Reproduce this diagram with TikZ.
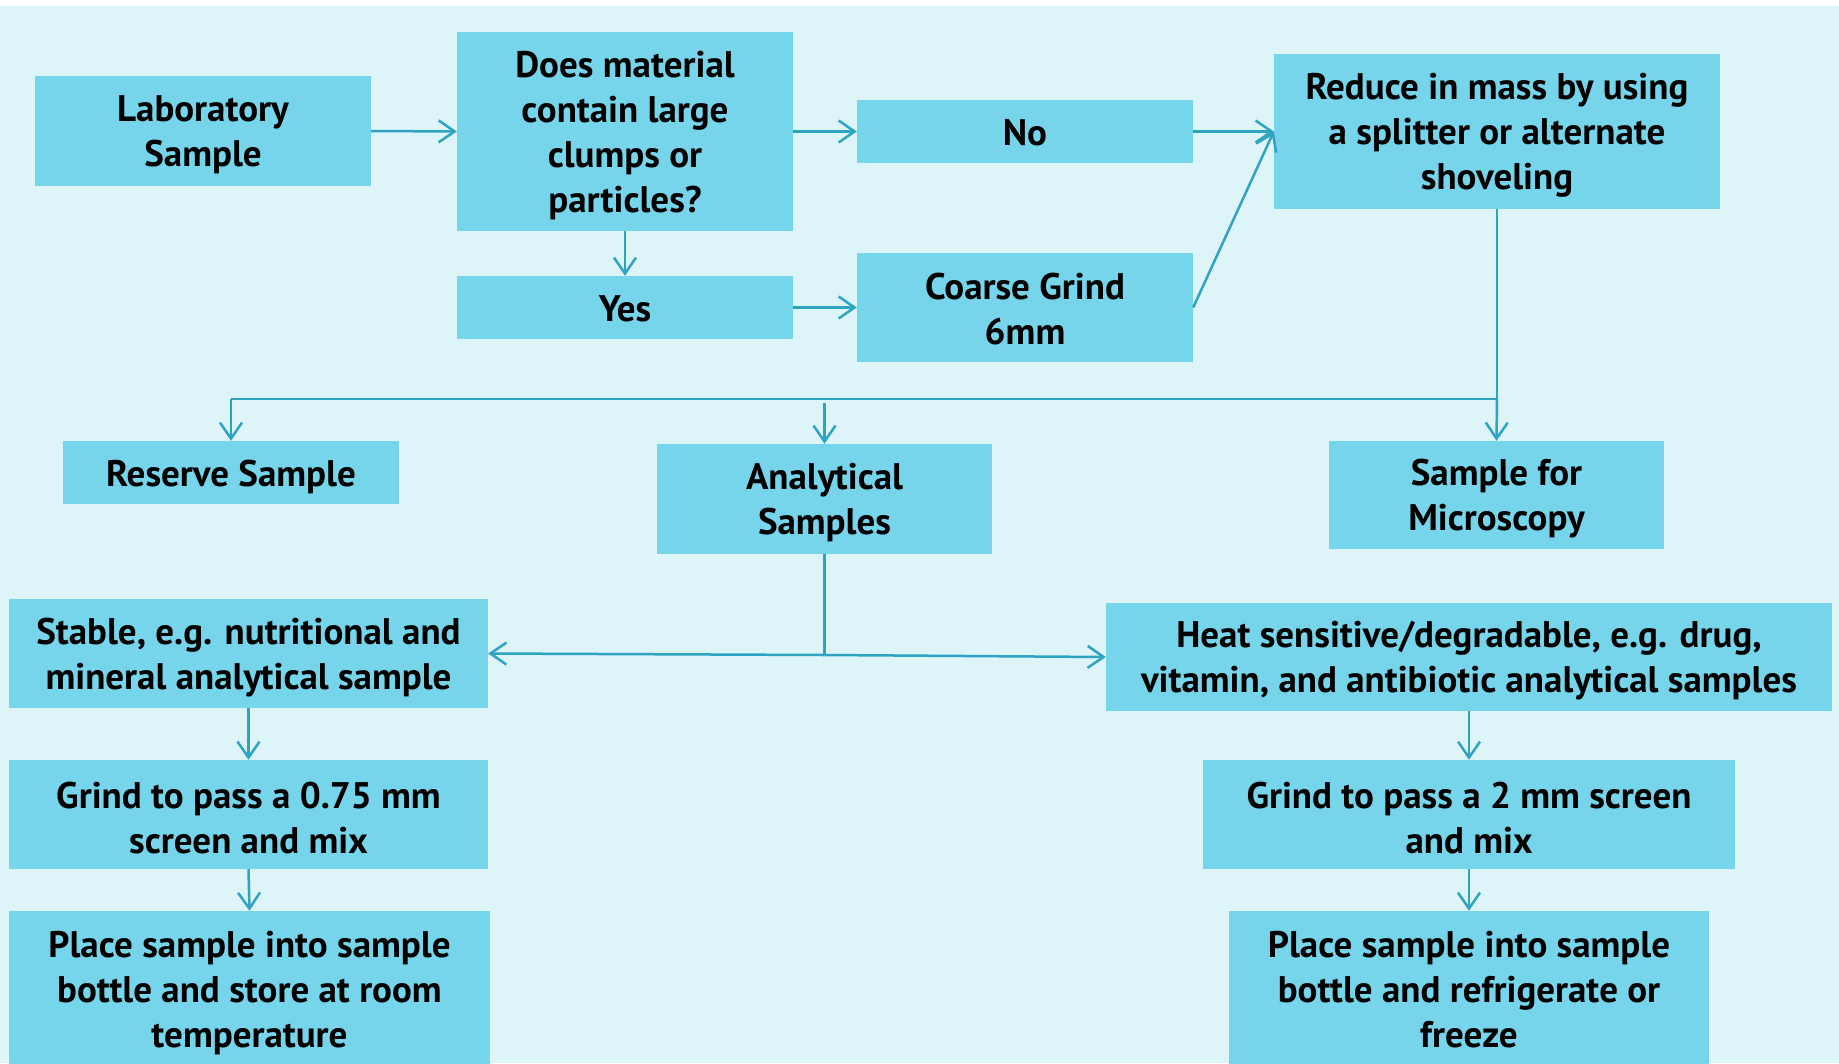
\documentclass[tikz,border=0pt]{standalone}
\usepackage{fontspec}
\setmainfont{PT Sans}
\usetikzlibrary{arrows.meta}
\definecolor{bgc}{HTML}{DDF4F9}
\definecolor{boxc}{HTML}{76D5EA}
\definecolor{linec}{HTML}{2FA3C2}
\begin{document}
\begin{tikzpicture}[x=1pt,y=-1pt,
  box/.style={rectangle,fill=boxc,inner sep=0pt},
  txt/.style={inner sep=0pt,align=center,yshift=-4pt,
    font=\fontsize{37}{45}\selectfont\bfseries},
  conn/.style={draw=linec,line width=2.5pt},
  arr/.style={conn,-{Straight Barb[length=16pt,width=22pt,line width=2.5pt]}}]
\useasboundingbox (0,0) rectangle (1839,1063);
\fill[white] (0,0) rectangle (1839,1063);
\fill[bgc] (0,6) rectangle (1839,1063);
\begin{scope}
\clip (0,0) rectangle (1839,1063);
\node[box,minimum width=336pt,minimum height=110pt,label={[txt]center:{Laboratory\\Sample}}] (lab) at (203,131) {};
\node[box,minimum width=336pt,minimum height=199pt,label={[txt]center:{Does material\\contain large\\clumps or\\particles?}}] (does) at (625,131.5) {};
\node[box,minimum width=336pt,minimum height=63pt,label={[txt,yshift=2.5pt]center:{No}}] (no) at (1025,131.5) {};
\node[box,minimum width=446pt,minimum height=155pt,label={[txt]center:{Reduce in mass by using\\a splitter or alternate\\shoveling}}] (reduce) at (1497,131.5) {};
\node[box,minimum width=336pt,minimum height=63pt,label={[txt,yshift=2.5pt]center:{Yes}}] (yes) at (625,307.5) {};
\node[box,minimum width=336pt,minimum height=109pt,label={[txt,yshift=2.5pt]center:{Coarse Grind\\6mm}}] (coarse) at (1025,307.5) {};
\node[box,minimum width=336pt,minimum height=63pt,label={[txt]center:{Reserve Sample}}] (reserve) at (231,472.5) {};
\node[box,minimum width=335pt,minimum height=110pt,label={[txt]center:{Analytical\\Samples}}] (anal) at (824.5,499) {};
\node[box,minimum width=335pt,minimum height=108pt,label={[txt]center:{Sample for\\Microscopy}}] (micro) at (1496.5,495) {};
\node[box,minimum width=479pt,minimum height=109pt,label={[txt]center:{Stable, e.g. nutritional and\\mineral analytical sample}}] (stable) at (248.5,653.5) {};
\node[box,minimum width=726pt,minimum height=108pt,label={[txt]center:{Heat sensitive/degradable, e.g. drug,\\vitamin, and antibiotic analytical samples}}] (heat) at (1469,657) {};
\node[box,minimum width=479pt,minimum height=109pt,label={[txt]center:{Grind to pass a 0.75 mm\\screen and mix}}] (gl) at (248.5,814.5) {};
\node[box,minimum width=532pt,minimum height=109pt,label={[txt]center:{Grind to pass a 2 mm screen\\and mix}}] (gr) at (1469,814.5) {};
\node[box,minimum width=481pt,minimum height=156pt,label={[txt]center:{Place sample into sample\\bottle and store at room\\temperature}}] (pl) at (249.5,989) {};
\node[box,minimum width=480pt,minimum height=156pt,label={[txt,yshift=3.5pt]center:{Place sample into sample\\bottle and refrigerate or\\freeze}}] (pr) at (1469,989) {};
\end{scope}
\coordinate (split) at (1497,399);
\coordinate (resv) at (231,399);
\coordinate (anstart) at (824.5,403);
\coordinate (aj) at (824.5,655);
\draw[arr] (lab.east) -- (does.west);
\draw[arr] (does.east) -- (no.west);
\draw[arr] (no.east) -- (reduce.west);
\draw[arr] (does.south) -- (yes.north);
\draw[arr] (yes.east) -- (coarse.west);
\draw[arr] (coarse.east) -- (reduce.west);
\draw[conn] (reduce.south) -- (split) -- (resv);
\draw[arr] (split) -- (micro.north);
\draw[arr] (resv) -- (reserve.north);
\draw[arr] (anstart) -- (anal.north);
\draw[conn] (anal.south) -- (aj);
\draw[arr] (aj) -- (stable.east);
\draw[arr] (aj) -- (heat.west);
\draw[arr] (stable.south) -- (gl.north);
\draw[arr] (gl.south) -- (pl.north);
\draw[arr] (heat.south) -- (gr.north);
\draw[arr] (gr.south) -- (pr.north);
\end{tikzpicture}
\end{document}
